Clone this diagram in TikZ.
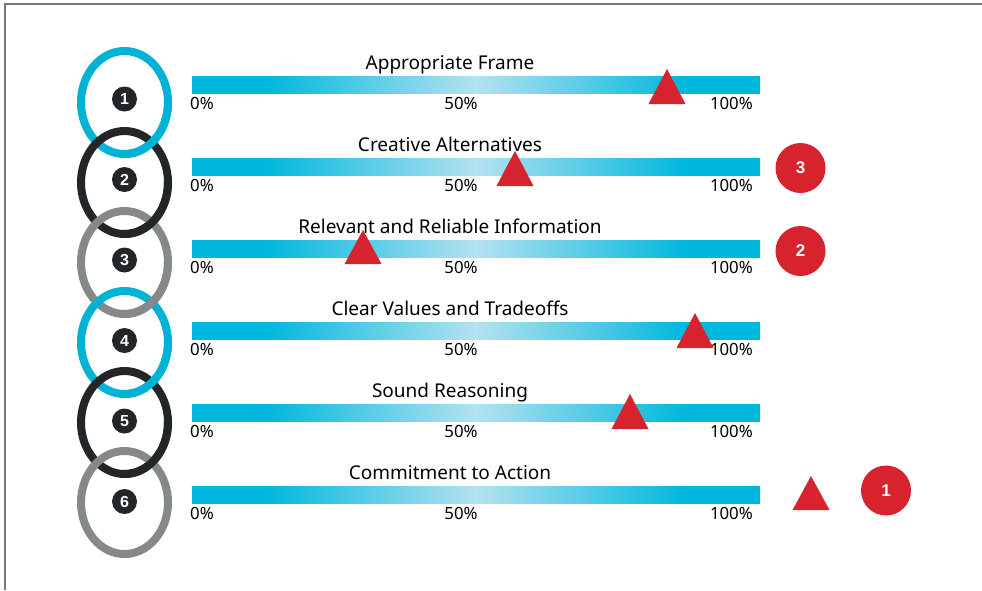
\documentclass[tikz,border=0pt]{standalone}
\usepackage{fontspec}
\setmainfont{Noto Sans}
\newfontfamily\digitfont{Liberation Sans}
\definecolor{cy}{RGB}{0,183,221}
\definecolor{lt}{RGB}{180,226,240}
\definecolor{ringcy}{RGB}{0,178,214}
\definecolor{ringdk}{RGB}{35,38,41}
\definecolor{ringgy}{RGB}{134,137,138}
\definecolor{redm}{RGB}{214,35,45}
\definecolor{framegy}{RGB}{120,120,120}
\pgfdeclarehorizontalshading{barshade}{100bp}{color(0bp)=(cy); color(25bp)=(cy); color(31.5bp)=(cy); color(50bp)=(lt); color(68.5bp)=(cy); color(75bp)=(cy); color(100bp)=(cy)}
\tikzset{
  ring/.style={line width=8pt},
  numdisc/.style={circle,fill=ringdk,minimum size=25pt,inner sep=0pt,text=white,font=\digitfont\bfseries\fontsize{16}{16}\selectfont},
  badge/.style={circle,fill=redm,minimum size=50pt,inner sep=0pt,text=white,font=\digitfont\bfseries\fontsize{17}{17}\selectfont},
  titletxt/.style={anchor=base,inner sep=0pt,font=\fontsize{19}{22}\selectfont},
  pcttxt/.style={inner sep=0pt,font=\fontsize{16.8}{19}\selectfont},
  marker/.style={fill=redm},
  framestyle/.style={draw=framegy,line width=1.3pt}
}
\begin{document}
\begin{tikzpicture}[x=1pt,y=-1pt]
\useasboundingbox (0,0) rectangle (982,590);
\fill[white] (0,0) rectangle (982,590);
\draw[framestyle] (5,590) -- (5,4) -- (982,4);
% rings
\foreach \r/\c in {0/ringcy,1/ringdk,2/ringgy,3/ringcy,4/ringdk,5/ringgy}{
  \draw[ring,\c] (124.5,102.5+80*\r) ellipse [x radius=43.5,y radius=51.5];
}
% interlock: upper ring over lower ring on the right side
\foreach \r/\c in {0/ringcy,1/ringdk,2/ringgy,3/ringcy,4/ringdk}{
  \begin{scope}
    \clip (124.5,102.5+80*\r) rectangle (200,170+80*\r);
    \draw[ring,\c] (124.5,102.5+80*\r) ellipse [x radius=43.5,y radius=51.5];
  \end{scope}
}
% number discs
\foreach \r/\n in {0/1,1/2,2/3,3/4,4/5,5/6}{
  \node[numdisc] (num\n) at (124.5,99+80.5*\r) {\n};
}
% bars, titles, percentages
\foreach \r/\t in {0/Appropriate Frame,1/Creative Alternatives,2/Relevant and Reliable Information,3/Clear Values and Tradeoffs,4/Sound Reasoning,5/Commitment to Action}{
  \shade[shading=barshade] (192,76+82*\r) rectangle (760,93+82*\r);
  \node[titletxt] (title\r) at (450,69.5+82*\r) {\t};
  \node[pcttxt,anchor=base west] (pa\r) at (190,109+82*\r) {0\%};
  \node[pcttxt,anchor=base] (pb\r) at (461,109+82*\r) {50\%};
  \node[pcttxt,anchor=base east] (pc\r) at (753,109+82*\r) {100\%};
}
% triangles
\foreach \x/\a/\b in {667/69/104,515/151/186,363/230/264,695/313/348,630/394/429,811/476/510}{
  \fill[marker] (\x,\a) -- (\x+18.5,\b) -- (\x-18.5,\b) -- cycle;
}
% badges
\node[badge] (badge3) at (800.5,168) {3};
\node[badge] (badge2) at (800.5,251) {2};
\node[badge] (badge1) at (886,490.5) {1};
\end{tikzpicture}
\end{document}
